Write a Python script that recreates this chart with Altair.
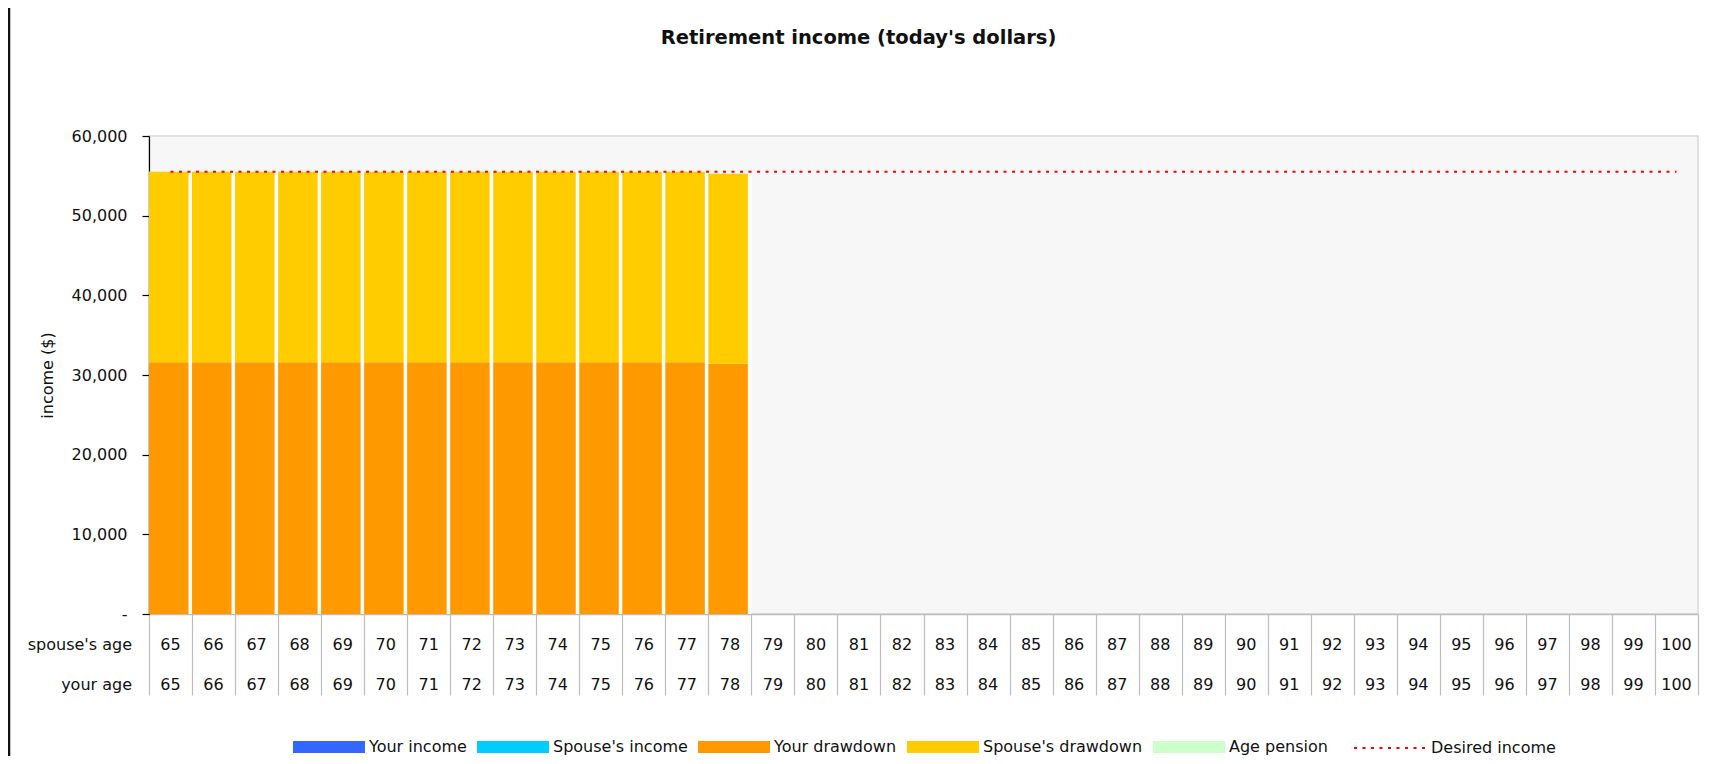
import altair as alt
import pandas as pd

# ---------------- data ----------------
your_age = [65, 66, 67, 68, 69, 70, 71, 72, 73, 74, 75, 76, 77, 78, 79, 80, 81, 82,
            83, 84, 85, 86, 87, 88, 89, 90, 91, 92, 93, 94, 95, 96, 97, 98, 99, 100]
spouse_age = [65, 66, 67, 68, 69, 70, 71, 72, 73, 74, 75, 76, 77, 78, 79, 80, 81, 82,
              83, 84, 85, 86, 87, 88, 89, 90, 91, 92, 93, 94, 95, 96, 97, 98, 99, 100]

series_names = ["Your income", "Spouse's income", "Your drawdown", "Spouse's drawdown", "Age pension"]
series_colors = ["#3366FF", "#00CCFF", "#FF9900", "#FFCC00", "#CCFFCC"]

your_income = [0, 0, 0, 0, 0, 0, 0, 0, 0, 0, 0, 0, 0, 0, 0, 0, 0, 0,
               0, 0, 0, 0, 0, 0, 0, 0, 0, 0, 0, 0, 0, 0, 0, 0, 0, 0]
spouse_income = [0, 0, 0, 0, 0, 0, 0, 0, 0, 0, 0, 0, 0, 0, 0, 0, 0, 0,
                 0, 0, 0, 0, 0, 0, 0, 0, 0, 0, 0, 0, 0, 0, 0, 0, 0, 0]
your_drawdown = [31600, 31600, 31600, 31600, 31600, 31600, 31600, 31600, 31600, 31600,
                 31600, 31600, 31600, 31400, 0, 0, 0, 0, 0, 0, 0, 0, 0, 0, 0, 0, 0, 0,
                 0, 0, 0, 0, 0, 0, 0, 0]
spouse_drawdown = [23900, 23900, 23900, 23900, 23900, 23900, 23900, 23900, 23900, 23900,
                   23900, 23900, 23900, 23850, 0, 0, 0, 0, 0, 0, 0, 0, 0, 0, 0, 0, 0, 0,
                   0, 0, 0, 0, 0, 0, 0, 0]
age_pension = [0, 0, 0, 0, 0, 0, 0, 0, 0, 0, 0, 0, 0, 0, 0, 0, 0, 0,
               0, 0, 0, 0, 0, 0, 0, 0, 0, 0, 0, 0, 0, 0, 0, 0, 0, 0]
desired_income = [55500, 55500, 55500, 55500, 55500, 55500, 55500, 55500, 55500, 55500,
                  55500, 55500, 55500, 55500, 55500, 55500, 55500, 55500, 55500, 55500,
                  55500, 55500, 55500, 55500, 55500, 55500, 55500, 55500, 55500, 55500,
                  55500, 55500, 55500, 55500, 55500, 55500]
desired_label = "Desired income"
row_labels = ["spouse's age", "your age"]
y_ticks = [0, 10000, 20000, 30000, 40000, 50000, 60000]
title_text = "Retirement income (today's dollars)"
y_title = "income ($)"

# ---------------- tables ----------------
rows = []
for idx, (name, vals) in enumerate(zip(series_names, [your_income, spouse_income, your_drawdown,
                                                      spouse_drawdown, age_pension])):
    for a, v in zip(your_age, vals):
        rows.append({"age": a, "series": name, "idx": idx, "value": v})
df_long = pd.DataFrame(rows)
df_line = pd.DataFrame({"age": your_age, "desired": desired_income,
                        "label": [desired_label] * len(your_age)})
df_table = pd.DataFrame({"age": your_age, "spouse": spouse_age, "yours": your_age})

FONT = "DejaVu Sans"
TXT = "#111111"
W, H = 1549, 478
LEG_Y = 575

xscale = alt.Scale(domain=your_age, paddingInner=0, paddingOuter=0)
xaxis = alt.Axis(title=None, labels=False, ticks=True, tickBand="extent", tickSize=81,
                 tickColor="#bdbdbd", tickWidth=1.2, domainColor="#bdbdbd", domainWidth=1.5,
                 grid=False)
yscale = alt.Scale(domain=[0, 60000], nice=False, zero=True)
yaxis = alt.Axis(title=y_title, values=y_ticks, grid=False,
                 labelExpr="datum.value == 0 ? '-\u00a0\u00a0\u00a0\u00a0' : format(datum.value, ',')",
                 domainColor="black", domainWidth=1.2, tickColor="black", tickWidth=1.2,
                 tickSize=7, labelPadding=15, labelFontSize=16, labelColor=TXT,
                 titleFontSize=16, titleFontWeight="normal", titleColor=TXT,
                 titleX=-102, titleY=H / 2, titleAlign="center", titleBaseline="middle",
                 titleAngle=270)


def X():
    return alt.X("age:O", scale=xscale, axis=xaxis)


backing = alt.Chart(df_long).transform_aggregate(
    total="sum(value)", groupby=["age"]
).mark_bar(color="white").encode(
    x=X(),
    y=alt.Y("total:Q", scale=yscale, axis=yaxis),
)

bars = alt.Chart(df_long).mark_bar(width=alt.RelativeBandSize(0.918), xOffset=-1.76).encode(
    x=X(),
    y=alt.Y("sum(value):Q", stack="zero", scale=yscale, axis=yaxis),
    color=alt.Color("series:N", scale=alt.Scale(domain=series_names, range=series_colors),
                    legend=alt.Legend(orient="none", legendX=144, legendY=LEG_Y,
                                      direction="horizontal", columns=5, title=None,
                                      symbolType="M-1,-0.1667H1V0.1667H-1Z", symbolSize=5184,
                                      symbolStrokeWidth=0, symbolOpacity=1,
                                      labelFontSize=16, labelColor=TXT, labelOffset=4,
                                      columnPadding=10, padding=0, labelLimit=400)),
    order=alt.Order("idx:Q"),
)

line = alt.Chart(df_line).mark_line(strokeDash=[3, 5.5], strokeWidth=2).encode(
    x=X(),
    y=alt.Y("desired:Q", scale=yscale, axis=yaxis),
    stroke=alt.Stroke("label:N", scale=alt.Scale(domain=[desired_label], range=["#FF0000"]),
                      legend=alt.Legend(orient="none", legendX=1204, legendY=LEG_Y, title=None,
                                        symbolType="stroke", symbolSize=5184,
                                        symbolDash=[3, 5.5], symbolStrokeWidth=2,
                                        labelFontSize=16, labelColor=TXT, labelOffset=4,
                                        padding=0, labelLimit=400)),
)

t_spouse = alt.Chart(df_table).mark_text(fontSize=16, color=TXT, baseline="middle").encode(
    x=X(), y=alt.value(509), text="spouse:N")
t_yours = alt.Chart(df_table).mark_text(fontSize=16, color=TXT, baseline="middle").encode(
    x=X(), y=alt.value(549), text="yours:N")

lab1 = alt.Chart(pd.DataFrame({"t": [row_labels[0]]})).mark_text(
    fontSize=16, color=TXT, align="right", baseline="middle").encode(
    x=alt.value(-17), y=alt.value(509), text="t:N")
lab2 = alt.Chart(pd.DataFrame({"t": [row_labels[1]]})).mark_text(
    fontSize=16, color=TXT, align="right", baseline="middle").encode(
    x=alt.value(-17), y=alt.value(549), text="t:N")

border = alt.Chart(pd.DataFrame({"t": [0]})).mark_rule(color=TXT, strokeWidth=2.5).encode(
    x=alt.value(-140), y=alt.value(-128), y2=alt.value(640))

chart = alt.layer(backing, bars, line, t_spouse, t_yours, lab1, lab2, border).properties(
    width=W, height=H,
    padding={"left": 141, "top": 128, "right": 8, "bottom": 142},
    autosize=alt.AutoSizeParams(type="none"),
    title=alt.Title(title_text, fontSize=19.5, fontWeight="bold", font=FONT, color=TXT,
                    anchor="middle", frame="group", dx=-65, offset=-42),
).configure(font=FONT).configure_view(fill="#f7f7f7", stroke="#d9d9d9", strokeWidth=1.5)

chart.save("out.html", embed_options={"renderer": "svg", "actions": False})
